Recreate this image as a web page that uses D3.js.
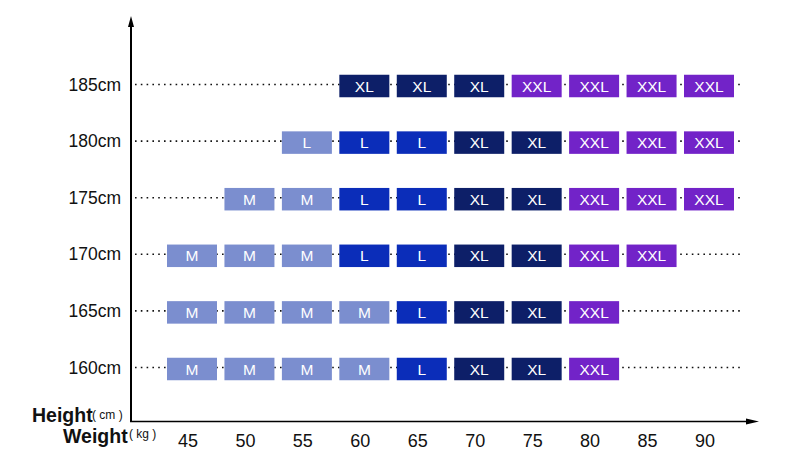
<!DOCTYPE html>
<html><head><meta charset="utf-8">
<script src="https://cdn.jsdelivr.net/npm/d3@7"></script>
<style>body{margin:0;background:#fff}svg{display:block}</style>
</head><body>
<svg id="c" width="800" height="463"></svg>
<script>
const heights = [185, 180, 175, 170, 165, 160];
const heightLabels = ["185cm", "180cm", "175cm", "170cm", "165cm", "160cm"];
const weights = [45, 50, 55, 60, 65, 70, 75, 80, 85, 90];
const sizeRows = [
  [null, null, null, "XL", "XL", "XL", "XXL", "XXL", "XXL", "XXL"],
  [null, null, "L", "L", "L", "XL", "XL", "XXL", "XXL", "XXL"],
  [null, "M", "M", "L", "L", "XL", "XL", "XXL", "XXL", "XXL"],
  ["M", "M", "M", "L", "L", "XL", "XL", "XXL", "XXL", null],
  ["M", "M", "M", "M", "L", "XL", "XL", "XXL", null, null],
  ["M", "M", "M", "M", "L", "XL", "XL", "XXL", null, null]
];
const lightCells = [[180, 55]];
const sizeColors = {M: "#7b8ecf", L: "#0b2db9", XL: "#0d1f68", XXL: "#7223c8"};
const lightColor = "#7b8ecf";

const svg = d3.select("#c");
const font = "'Liberation Sans', Arial, sans-serif";
const x = d3.scaleLinear().domain([45, 90]).range([192, 709]);
const y = d3.scaleLinear().domain([185, 160]).range([86, 369]);
const cw = 50, ch = 22.5;

// dotted guide lines
svg.append("g").selectAll("line").data(heights).join("line")
  .attr("x1", 135).attr("x2", 744)
  .attr("y1", d => y(d) - 1.5).attr("y2", d => y(d) - 1.5)
  .attr("stroke", "#111").attr("stroke-width", 1.6)
  .attr("stroke-dasharray", "1.6,4.2");

// cells
const cells = [];
heights.forEach((h, i) => weights.forEach((w, j) => {
  const s = sizeRows[i][j];
  if (s) cells.push({h, w, s, light: lightCells.some(c => c[0] === h && c[1] === w)});
}));
const g = svg.append("g").selectAll("g").data(cells).join("g")
  .attr("transform", d => `translate(${x(d.w)},${y(d.h)})`);
g.append("rect").attr("x", -cw / 2).attr("y", -ch / 2).attr("width", cw).attr("height", ch)
  .attr("fill", d => d.light ? lightColor : sizeColors[d.s]);
g.append("text").attr("text-anchor", "middle").attr("dy", "0.36em")
  .attr("font-family", font).attr("font-size", 15.5).attr("fill", "#fff")
  .text(d => d.s);

// y labels
svg.append("g").selectAll("text").data(heights).join("text")
  .attr("x", 121).attr("y", d => y(d) - 1.5).attr("dy", "0.35em")
  .attr("text-anchor", "end").attr("font-family", font).attr("font-size", 17.5).attr("fill", "#111")
  .text((d, i) => heightLabels[i]);

// x labels
svg.append("g").selectAll("text").data(weights).join("text")
  .attr("x", d => x(d) - 4).attr("y", 447)
  .attr("text-anchor", "middle").attr("font-family", font).attr("font-size", 18).attr("fill", "#111")
  .text(d => d);

// axes
svg.append("line").attr("x1", 131).attr("x2", 131).attr("y1", 24).attr("y2", 422)
  .attr("stroke", "#000").attr("stroke-width", 2);
svg.append("path").attr("d", "M131,16 L128,27 L134,27 Z").attr("fill", "#000");
svg.append("line").attr("x1", 130).attr("x2", 750).attr("y1", 421.5).attr("y2", 421.5)
  .attr("stroke", "#000").attr("stroke-width", 1.5);
svg.append("path").attr("d", "M759,421.5 L746,418.5 L746,424.5 Z").attr("fill", "#000");

// axis titles
svg.append("text").attr("x", 32).attr("y", 422).attr("font-family", font).attr("fill", "#111")
  .attr("font-size", 19.5).attr("font-weight", "bold").text("Height");
svg.append("text").attr("x", 92).attr("y", 419).attr("font-family", font).attr("fill", "#111")
  .attr("font-size", 12).text("( cm )");
svg.append("text").attr("x", 63).attr("y", 443).attr("font-family", font).attr("fill", "#111")
  .attr("font-size", 19.5).attr("font-weight", "bold").text("Weight");
svg.append("text").attr("x", 129).attr("y", 438).attr("font-family", font).attr("fill", "#111")
  .attr("font-size", 12).text("( kg )");
</script>
</body></html>
